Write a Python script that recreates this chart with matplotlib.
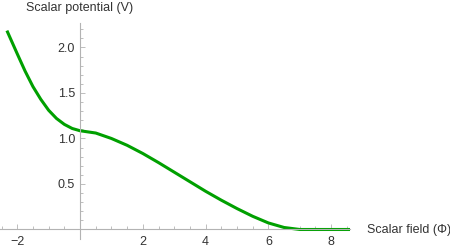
import numpy as np
import matplotlib
matplotlib.use("Agg")
import matplotlib.pyplot as plt

plt.rcParams['font.family'] = ['Liberation Sans', 'DejaVu Sans']

# curve
phi = [-2.31, -2.0, -1.75, -1.5, -1.25, -1.0, -0.75, -0.5, -0.25, 0.0,
       0.5, 1.0, 1.5, 2.0, 2.5, 3.0, 3.5, 4.0, 4.5, 5.0, 5.5, 6.0, 6.5,
       7.0, 8.6]
V = [2.17, 1.93, 1.74, 1.57, 1.43, 1.31, 1.22, 1.155, 1.11, 1.085,
     1.06, 1.0, 0.925, 0.835, 0.735, 0.63, 0.525, 0.42, 0.322, 0.23,
     0.145, 0.072, 0.022, 0.0, 0.0]

xticks = [-2, 2, 4, 6, 8]
yticks = [0.5, 1.0, 1.5, 2.0]

fig = plt.figure(figsize=(4.5, 2.49), dpi=100)
ax = fig.add_axes([0.0, 0.0418, 350 / 450, 0.908 - 0.0418])

ax.plot(phi, V, color='#00a000', lw=2.2, solid_joinstyle='round')

ax.set_xlim(-2.55, 8.6)
ax.set_ylim(-0.1, 2.27)

axis_col = '#b3b3b3'
for s in ['top', 'right']:
    ax.spines[s].set_visible(False)
ax.spines['left'].set_position(('data', 0))
ax.spines['bottom'].set_position(('data', 0))
for s in ['left', 'bottom']:
    ax.spines[s].set_color(axis_col)
    ax.spines[s].set_linewidth(0.8)

ax.set_xticks(xticks)
ax.set_yticks(yticks)
ax.set_yticklabels(['0.5', '1.0', '1.5', '2.0'])
ax.set_xticks(np.arange(-2.5, 8.6, 0.5), minor=True)
ax.set_yticks(np.arange(0.1, 2.25, 0.1), minor=True)
ax.tick_params(which='both', direction='in', color=axis_col, width=0.6)
ax.tick_params(which='major', length=3.5, labelsize=9, labelcolor='#333333')
ax.tick_params(which='minor', length=2)
ax.tick_params(axis='x', which='major', pad=5)
ax.tick_params(axis='y', which='major', pad=3.5)

fig.text(80 / 450, 1 - 8.5 / 249, 'Scalar potential (V)', ha='center', va='center',
         fontsize=9, color='#333333')
fig.text(367 / 450, 1 - 230 / 249, 'Scalar field (\u03a6)', ha='left', va='center',
         fontsize=9, color='#333333')

fig.savefig('out.png', dpi=100)
